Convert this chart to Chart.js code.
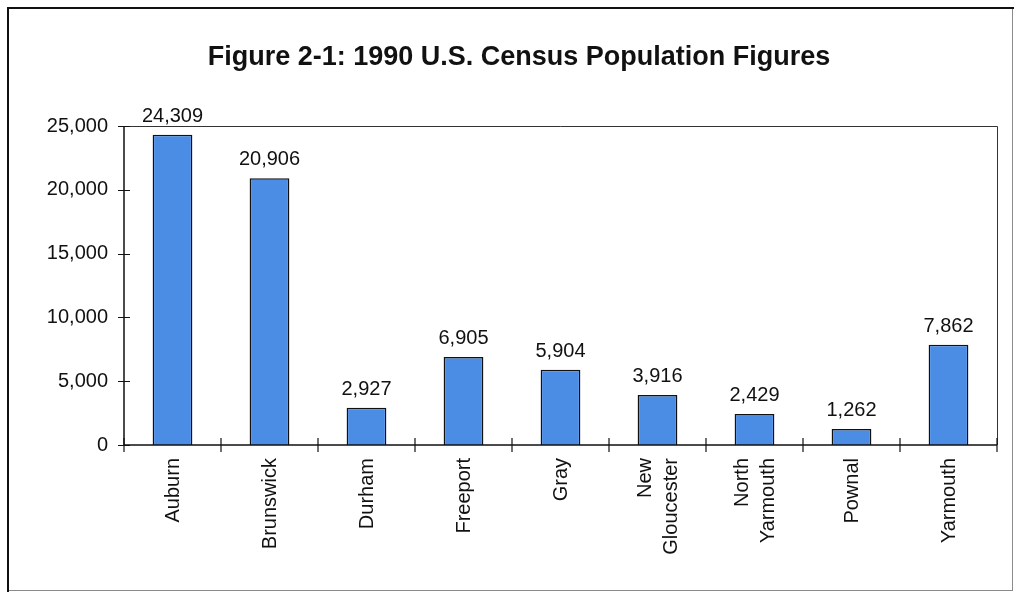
<!DOCTYPE html>
<html>
<head>
    <title>1990 U.S. Census Population Figures</title>
    <script src="https://cdn.jsdelivr.net/npm/chart.js@4.4.0/dist/chart.umd.min.js"></script>
    <style>
        body {
            margin: 0;
            background-color: white;
        }
        #wrap {
            width: 1020px;
            height: 593px;
        }
    </style>
</head>
<body>
    <div id="wrap"><canvas id="myChart"></canvas></div>

    <script>
        const chartTitle = 'Figure 2-1: 1990 U.S. Census Population Figures';
        const towns = ['Auburn', 'Brunswick', 'Durham', 'Freeport', 'Gray',
            ['New', 'Gloucester'], ['North', 'Yarmouth'], 'Pownal', 'Yarmouth'];
        const population = [24309, 20906, 2927, 6905, 5904, 3916, 2429, 1262, 7862];
        const yTicks = [0, 5000, 10000, 15000, 20000, 25000];

        const FONT = 'Arial, "Liberation Sans", sans-serif';

        // frame, title, plot box, crossing tick marks, category and value labels
        const decorations = {
            id: 'decorations',
            beforeDraw(chart) {
                const ctx = chart.ctx;
                ctx.save();
                ctx.fillStyle = 'white';
                ctx.fillRect(0, 0, chart.width, chart.height);
                ctx.strokeStyle = '#8a8a8a';
                ctx.lineWidth = 1;
                ctx.strokeRect(8.5, 8.5, 1004, 582);
                ctx.strokeStyle = '#111';
                ctx.lineWidth = 2;
                ctx.beginPath();
                ctx.moveTo(8, 592);
                ctx.lineTo(8, 8);
                ctx.lineTo(1014, 8);
                ctx.stroke();
                // title
                ctx.fillStyle = '#111';
                ctx.font = 'bold 27px ' + FONT;
                ctx.textAlign = 'center';
                ctx.textBaseline = 'alphabetic';
                ctx.fillText(chartTitle, 519, 65);
                ctx.restore();
            },
            afterDraw(chart) {
                const ctx = chart.ctx;
                const a = chart.chartArea;
                const x = chart.scales.x, y = chart.scales.y;
                ctx.save();
                // plot box top / right
                ctx.strokeStyle = '#333';
                ctx.lineWidth = 1;
                ctx.beginPath();
                ctx.moveTo(a.left, a.top + 0.5);
                ctx.lineTo(a.right + 0.5, a.top + 0.5);
                ctx.lineTo(a.right + 0.5, a.bottom);
                ctx.stroke();
                // axes
                ctx.strokeStyle = '#111';
                ctx.lineWidth = 1.5;
                ctx.beginPath();
                ctx.moveTo(a.left, a.top);
                ctx.lineTo(a.left, a.bottom);
                ctx.lineTo(a.right, a.bottom);
                ctx.stroke();
                // y ticks crossing the axis
                ctx.lineWidth = 1.2;
                ctx.beginPath();
                yTicks.forEach(v => {
                    const py = Math.round(y.getPixelForValue(v)) + 0.5;
                    ctx.moveTo(a.left - 6, py);
                    ctx.lineTo(a.left + 6, py);
                });
                // x ticks at category boundaries
                const step = (a.right - a.left) / towns.length;
                for (let i = 0; i <= towns.length; i++) {
                    const px = x.getPixelForValue(i) - step / 2;
                    ctx.moveTo(px, a.bottom - 7);
                    ctx.lineTo(px, a.bottom + 7);
                }
                ctx.stroke();
                ctx.fillStyle = '#111';
                ctx.font = '20px ' + FONT;
                // category labels, rotated, multi-line centred on the bar
                towns.forEach((t, i) => {
                    const lines = Array.isArray(t) ? t : [t];
                    const cx = x.getPixelForValue(i);
                    lines.forEach((line, j) => {
                        const off = (j - (lines.length - 1) / 2) * 26;
                        ctx.save();
                        ctx.translate(cx + off + 1, a.bottom + 13);
                        ctx.rotate(-Math.PI / 2);
                        ctx.textAlign = 'right';
                        ctx.textBaseline = 'middle';
                        ctx.fillText(line, 0, 0);
                        ctx.restore();
                    });
                });
                // value labels
                ctx.textAlign = 'center';
                ctx.textBaseline = 'alphabetic';
                const meta = chart.getDatasetMeta(0);
                meta.data.forEach((bar, i) => {
                    ctx.fillText(population[i].toLocaleString('en-US'), bar.x, bar.y - 13);
                });
                ctx.restore();
            }
        };

        const ctx = document.getElementById('myChart').getContext('2d');
        const chart = new Chart(ctx, {
            type: 'bar',
            data: {
                labels: towns,
                datasets: [{
                    data: population,
                    backgroundColor: '#4b8ce4',
                    borderColor: '#111',
                    borderWidth: 1.5,
                    categoryPercentage: 1,
                    barPercentage: 0.41
                }]
            },
            options: {
                responsive: true,
                maintainAspectRatio: false,
                animation: false,
                layout: {
                    padding: { left: 0, right: 23, top: 126, bottom: 0 }
                },
                scales: {
                    x: {
                        grid: { display: false },
                        border: { display: false },
                        ticks: { display: false },
                        afterFit: s => { s.height = 148; }
                    },
                    y: {
                        min: 0,
                        max: 25000,
                        grid: { display: false, drawTicks: false },
                        border: { display: false },
                        ticks: {
                            stepSize: 5000,
                            color: '#111',
                            font: { family: FONT, size: 20 },
                            padding: 16,
                            callback: v => v.toLocaleString('en-US')
                        },
                        afterFit: s => { s.width = 124; }
                    }
                },
                plugins: {
                    legend: { display: false },
                    tooltip: { enabled: false },
                    title: { display: false }
                }
            },
            plugins: [decorations]
        });
    </script>
</body>
</html>
